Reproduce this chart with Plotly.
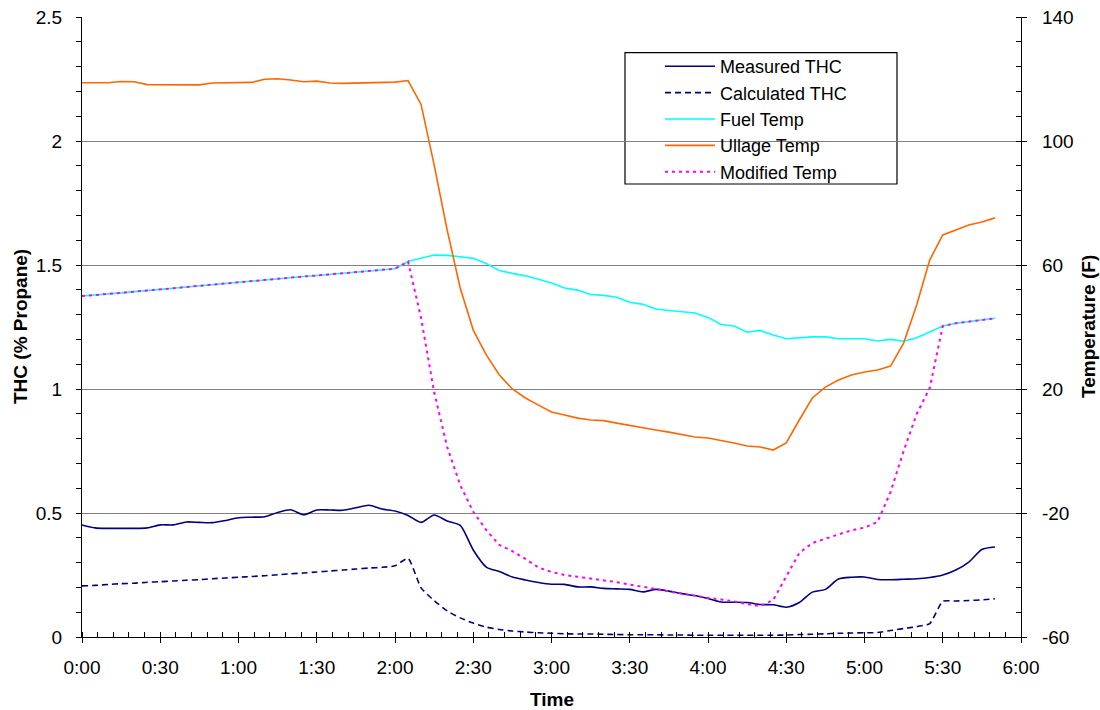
import plotly.graph_objects as go

# time in minutes from start (every 5 min)
minutes = [0, 5, 10, 15, 20, 25, 30, 35, 40, 45,
           50, 55, 60, 65, 70, 75, 80, 85, 90, 95,
           100, 105, 110, 115, 120, 125, 130, 135, 140, 145,
           150, 155, 160, 165, 170, 175, 180, 185, 190, 195,
           200, 205, 210, 215, 220, 225, 230, 235, 240, 245,
           250, 255, 260, 265, 270, 275, 280, 285, 290, 295,
           300, 305, 310, 315, 320, 325, 330, 335, 340, 345,
           350]

x_tick_vals = [0, 30, 60, 90, 120, 150, 180, 210, 240, 270, 300, 330, 360]
x_tick_text = ["0:00", "0:30", "1:00", "1:30", "2:00", "2:30", "3:00",
               "3:30", "4:00", "4:30", "5:00", "5:30", "6:00"]
y2_tick_vals = [-60, -20, 20, 60, 100, 140]
y2_tick_text = ["-60", "-20", "20", "60", "100", "140"]

measured_thc = [0.452, 0.440, 0.438, 0.438, 0.438, 0.440, 0.452, 0.452, 0.464, 0.462,
                0.461, 0.470, 0.481, 0.483, 0.485, 0.502, 0.513, 0.493, 0.512, 0.512,
                0.511, 0.521, 0.531, 0.516, 0.508, 0.490, 0.462, 0.492, 0.468, 0.450,
                0.351, 0.282, 0.264, 0.242, 0.230, 0.220, 0.213, 0.212, 0.202, 0.202,
                0.196, 0.194, 0.192, 0.182, 0.192, 0.185, 0.175, 0.167, 0.155, 0.141,
                0.140, 0.139, 0.131, 0.130, 0.120, 0.139, 0.181, 0.192, 0.234, 0.241,
                0.242, 0.232, 0.231, 0.233, 0.235, 0.240, 0.250, 0.270, 0.302, 0.353,
                0.363]

calculated_thc = [0.206, 0.208, 0.212, 0.215, 0.217, 0.221, 0.223, 0.226, 0.229, 0.231,
                  0.235, 0.238, 0.241, 0.244, 0.247, 0.251, 0.255, 0.258, 0.262, 0.266,
                  0.270, 0.274, 0.278, 0.281, 0.287, 0.317, 0.198, 0.147, 0.105, 0.077,
                  0.056, 0.040, 0.030, 0.024, 0.020, 0.017, 0.015, 0.013, 0.012, 0.012,
                  0.011, 0.010, 0.009, 0.009, 0.009, 0.008, 0.008, 0.007, 0.007, 0.007,
                  0.007, 0.007, 0.007, 0.007, 0.008, 0.010, 0.011, 0.013, 0.015, 0.016,
                  0.017, 0.018, 0.026, 0.034, 0.042, 0.054, 0.144, 0.145, 0.147, 0.150,
                  0.154]

fuel_temp = [50.0, 50.3, 50.5, 51.0, 51.4, 51.7, 52.1, 52.5, 52.9, 53.3,
             53.7, 54.0, 54.4, 54.8, 55.2, 55.5, 55.9, 56.3, 56.6, 57.0,
             57.4, 57.8, 58.2, 58.6, 58.8, 61.1, 62.1, 63.2, 63.1, 62.7,
             62.2, 60.5, 58.2, 57.3, 56.5, 55.4, 54.2, 52.6, 51.9, 50.5,
             50.2, 49.6, 48.0, 47.3, 45.8, 45.3, 45.0, 44.5, 43.1, 40.8,
             40.3, 38.3, 38.9, 37.4, 36.2, 36.5, 36.8, 36.8, 36.2, 36.2,
             36.2, 35.5, 36.0, 35.4, 36.5, 38.4, 40.3, 41.2, 41.7, 42.2,
             42.8]

ullage_temp = [118.8, 118.8, 118.8, 119.2, 119.1, 118.2, 118.2, 118.2, 118.2, 118.1,
               118.7, 118.8, 118.8, 118.9, 119.9, 120.1, 119.7, 119.1, 119.3, 118.7,
               118.6, 118.7, 118.8, 118.8, 119.0, 119.5, 111.8, 92.3, 71.3, 52.6,
               39.0, 31.0, 24.5, 20.0, 17.1, 14.8, 12.6, 11.6, 10.6, 10.0,
               9.8, 9.0, 8.2, 7.4, 6.8, 6.1, 5.3, 4.5, 4.2, 3.5,
               2.6, 1.6, 1.3, 0.3, 2.6, 10.0, 17.1, 20.6, 22.9, 24.5,
               25.5, 26.1, 27.4, 34.8, 47.1, 61.6, 69.7, 71.3, 72.9, 73.9,
               75.2]

modified_temp = [50.0, 50.3, 50.5, 51.0, 51.4, 51.7, 52.1, 52.5, 52.9, 53.3,
                 53.7, 54.0, 54.4, 54.8, 55.2, 55.5, 55.9, 56.3, 56.6, 57.0,
                 57.4, 57.8, 58.2, 58.6, 58.8, 61.1, 42.9, 19.0, 1.3, -11.0,
                 -19.6, -25.5, -30.3, -32.3, -34.8, -37.6, -39.0, -40.0, -40.6, -41.0,
                 -41.6, -42.3, -43.1, -43.7, -44.5, -45.3, -46.0, -46.8, -47.4, -47.9,
                 -48.5, -49.4, -50.0, -48.1, -40.6, -32.9, -29.7, -28.2, -26.9, -25.6,
                 -24.7, -22.9, -13.2, 0.0, 11.9, 20.3, 40.3, 41.2, 41.7, 42.2,
                 42.8]

FONT = "Arial, Liberation Sans, sans-serif"
FS = 19

fig = go.Figure()
fig.add_trace(go.Scatter(x=minutes, y=measured_thc, name="Measured THC", mode="lines",
                         line=dict(color="#000080", width=1.6, shape="spline", smoothing=0.7)))
fig.add_trace(go.Scatter(x=minutes, y=calculated_thc, name="Calculated THC", mode="lines",
                         line=dict(color="#000080", width=1.6, dash="6px,4px",
                                   shape="spline", smoothing=0.5)))
fig.add_trace(go.Scatter(x=minutes, y=fuel_temp, name="Fuel Temp", mode="lines", yaxis="y2",
                         line=dict(color="#00FFFF", width=1.6)))
fig.add_trace(go.Scatter(x=minutes, y=ullage_temp, name="Ullage Temp", mode="lines", yaxis="y2",
                         line=dict(color="#FF6600", width=1.6)))
fig.add_trace(go.Scatter(x=minutes, y=modified_temp, name="Modified Temp", mode="lines", yaxis="y2",
                         line=dict(color="#FF00FF", width=2, dash="3px,4px")))
# helper traces so the tick-overlay axes are drawn
fig.add_trace(go.Scatter(x=[None], y=[None], xaxis="x3", yaxis="y", showlegend=False,
                         hoverinfo="skip", mode="lines"))
fig.add_trace(go.Scatter(x=[None], y=[None], xaxis="x", yaxis="y3", showlegend=False,
                         hoverinfo="skip", mode="lines"))

L, R, T, B = 82, 1021, 17, 637
W, H = 1100, 710
pw, ph = R - L, B - T

def px_x(p):
    return (p - L) / pw

def px_y(p):
    return (B - p) / ph

fig.update_layout(
    width=W, height=H,
    margin=dict(l=L, r=W - R, t=T, b=H - B, pad=0),
    paper_bgcolor="white", plot_bgcolor="white",
    font=dict(family=FONT, size=FS, color="black"),
    showlegend=True,
    legend=dict(x=px_x(660), y=px_y(48), xanchor="left", yanchor="top",
                bgcolor="rgba(0,0,0,0)", borderwidth=0, itemwidth=50,
                font=dict(family=FONT, size=18, color="black"),
                tracegroupgap=0),
    xaxis=dict(range=[0, 360], tickmode="array", tickvals=x_tick_vals, ticktext=x_tick_text,
               ticks="outside", ticklen=5, tickwidth=1, tickcolor="black",
               minor=dict(tickmode="linear", tick0=0, dtick=6, ticks="inside", ticklen=5,
                          tickwidth=1, tickcolor="black"),
               showline=True, linecolor="black", linewidth=1.3, showgrid=False, zeroline=False,
               ticklabelstandoff=8, automargin=False,
               tickfont=dict(family=FONT, size=FS, color="black")),
    xaxis3=dict(range=[0, 360], overlaying="x", anchor="y", side="bottom", tickmode="array",
                tickvals=x_tick_vals, ticks="inside", ticklen=5, tickwidth=1, tickcolor="black",
                showticklabels=False, showline=False, showgrid=False, zeroline=False,
                automargin=False),
    yaxis=dict(range=[0, 2.5], tick0=0, dtick=0.5, ticks="outside", ticklen=5, tickwidth=1,
               tickcolor="black",
               minor=dict(tick0=0, dtick=0.1, ticks="outside", ticklen=5, tickwidth=1,
                          tickcolor="black"),
               showline=True, linecolor="black", linewidth=1.3,
               showgrid=True, gridcolor="#808080", gridwidth=1.2, zeroline=False,
               ticklabelstandoff=10, automargin=False,
               tickfont=dict(family=FONT, size=FS, color="black")),
    yaxis2=dict(range=[-60, 140], overlaying="y", side="right", anchor="x",
                tickmode="array", tickvals=y2_tick_vals, ticktext=y2_tick_text,
                ticks="outside", ticklen=5, tickwidth=1, tickcolor="black",
                minor=dict(tickmode="linear", tick0=-60, dtick=8, ticks="inside", ticklen=5,
                           tickwidth=1, tickcolor="black"),
                showline=True, linecolor="black", linewidth=1.3, showgrid=False, zeroline=False,
                ticklabelstandoff=11, automargin=False,
                tickfont=dict(family=FONT, size=FS, color="black")),
    yaxis3=dict(range=[-60, 140], overlaying="y", side="right", anchor="x",
                tickmode="array", tickvals=y2_tick_vals, ticks="inside", ticklen=5,
                tickwidth=1, tickcolor="black", showticklabels=False, showline=False,
                showgrid=False, zeroline=False, automargin=False),
    shapes=[dict(type="rect", xref="paper", yref="paper",
                 x0=px_x(625), x1=px_x(897), y0=px_y(184), y1=px_y(52.7),
                 line=dict(color="black", width=1.2), fillcolor="white", layer="below")],
    annotations=[
        dict(text="<b>THC (% Propane)</b>", xref="paper", yref="paper",
             x=px_x(20), y=px_y(327), textangle=-90, showarrow=False,
             xanchor="center", yanchor="middle", font=dict(family=FONT, size=FS, color="black")),
        dict(text="<b>Temperature (F)</b>", xref="paper", yref="paper",
             x=px_x(1088), y=px_y(327), textangle=-90, showarrow=False,
             xanchor="center", yanchor="middle", font=dict(family=FONT, size=FS, color="black")),
        dict(text="<b>Time</b>", xref="paper", yref="paper",
             x=px_x(551.5), y=px_y(699), showarrow=False,
             xanchor="center", yanchor="middle", font=dict(family=FONT, size=FS, color="black")),
    ],
)

fig.write_html("out.html")
